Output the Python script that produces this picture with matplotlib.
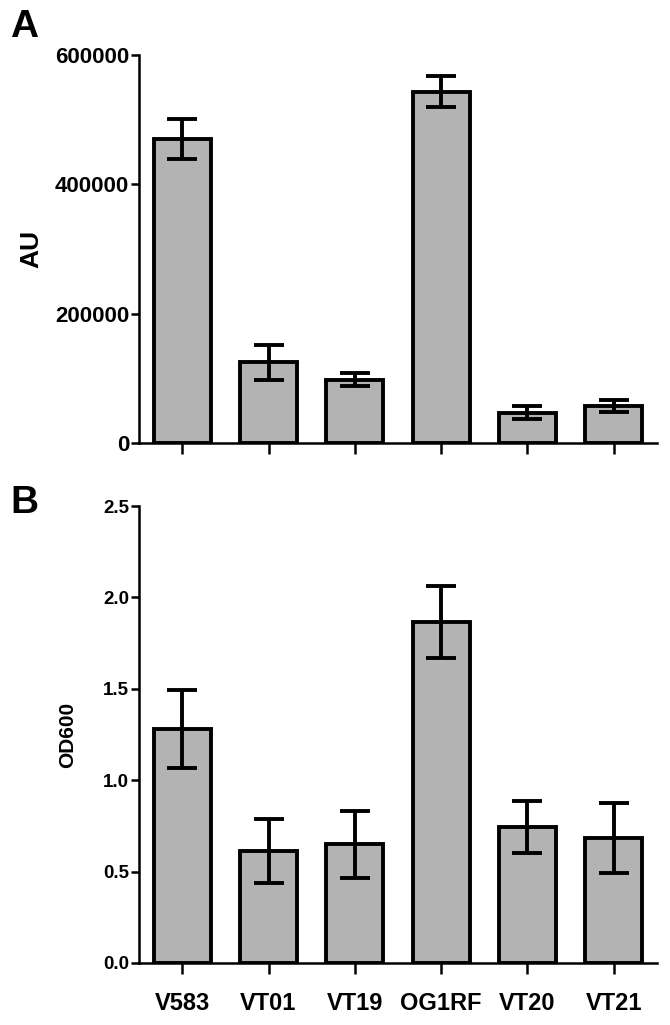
import matplotlib
matplotlib.use("Agg")
import matplotlib.pyplot as plt
import numpy as np

plt.rcParams['font.family'] = ['Liberation Sans', 'DejaVu Sans']
plt.rcParams['font.weight'] = 'bold'

strains = ["V583", "VT01", "VT19", "OG1RF", "VT20", "VT21"]

au_mean = [470000, 125000, 98000, 543000, 47000, 57000]
au_err = [31000, 27000, 10000, 24000, 10000, 9000]

od_mean = [1.28, 0.615, 0.65, 1.865, 0.745, 0.685]
od_err = [0.215, 0.175, 0.183, 0.198, 0.142, 0.193]

fig = plt.figure(figsize=(6.7, 10.25), dpi=100)
ax1 = fig.add_axes([0.2075, 0.5678, 0.773, 0.3785])
ax2 = fig.add_axes([0.2075, 0.0605, 0.773, 0.4458])

x = np.arange(len(strains))


def draw(ax, mean, err):
    ax.bar(x, mean, width=0.66, color="#b3b3b3", edgecolor="black",
           linewidth=2.8, zorder=2)
    ax.errorbar(x, mean, yerr=err, fmt="none", ecolor="black",
                elinewidth=2.8, capsize=11, capthick=2.8, zorder=3)
    ax.set_xlim(-0.5, 5.5)
    ax.spines["top"].set_visible(False)
    ax.spines["right"].set_visible(False)
    ax.spines["left"].set_linewidth(1.8)
    ax.spines["bottom"].set_linewidth(1.8)
    ax.tick_params(axis="x", length=8, width=1.8, direction="out")
    ax.tick_params(axis="y", length=6, width=1.8, direction="out", pad=1)
    ax.set_xticks(x)


draw(ax1, au_mean, au_err)
ax1.set_ylim(0, 600000)
ax1.set_yticks([0, 200000, 400000, 600000])
ax1.set_yticklabels(["0", "200000", "400000", "600000"], fontsize=16,
                    fontweight="bold")
ax1.set_xticklabels([])
ax1.set_ylabel("AU", fontsize=19, fontweight="bold")
ax1.yaxis.set_label_coords(-0.185, 0.5)

draw(ax2, od_mean, od_err)
ax2.set_ylim(0, 2.5)
ax2.set_yticks([0.0, 0.5, 1.0, 1.5, 2.0, 2.5])
ax2.set_yticklabels(["0.0", "0.5", "1.0", "1.5", "2.0", "2.5"], fontsize=13.5,
                    fontweight="bold")
ax2.set_xticklabels(strains, fontsize=17, fontweight="bold")
ax2.tick_params(axis="x", pad=13)
ax2.set_ylabel("OD600", fontsize=15, fontweight="bold")
ax2.yaxis.set_label_coords(-0.12, 0.5)

fig.text(0.015, 0.991, "A", fontsize=28, fontweight="bold", va="top")
fig.text(0.015, 0.527, "B", fontsize=28, fontweight="bold", va="top")

fig.savefig("out.png", dpi=100)
